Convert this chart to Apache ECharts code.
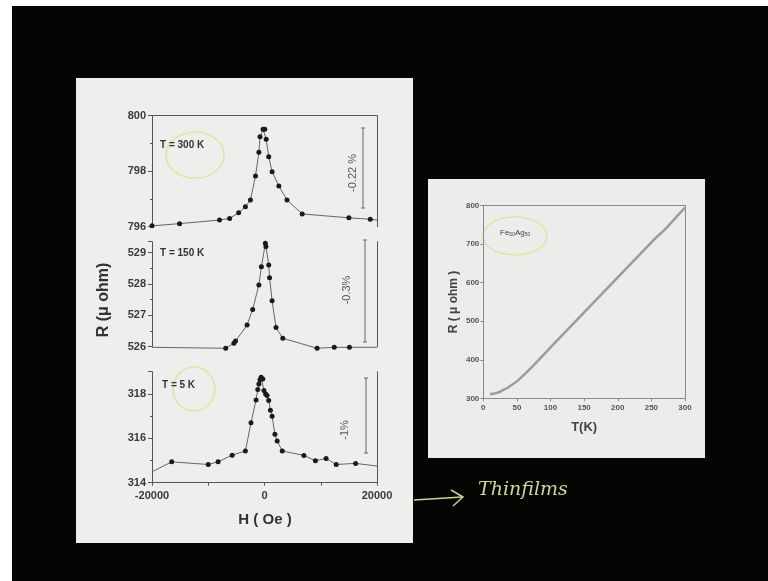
<!DOCTYPE html>
<html>
<head>
<meta charset="utf-8">
<script src="https://cdn.jsdelivr.net/npm/echarts@6/dist/echarts.min.js"></script>
<style>
html,body{margin:0;padding:0;background:#fff;}
#c{width:768px;height:581px;}
</style>
</head>
<body>
<div id="c"></div>
<script>
// ---- Data ----
// T = 300 K
const h300 = [-20000,-15100,-8000,-6200,-4600,-3400,-2500,-1600,-1000,-800,-250,50,300,750,1350,2550,4000,6700,15000,18800,20000];
const r300 = [796.03,796.11,796.24,796.30,796.50,796.72,796.96,797.83,798.68,799.24,799.51,799.51,799.15,798.52,797.98,797.47,796.96,796.46,796.32,796.27,796.24];
// T = 150 K
const h150 = [-20000,-6900,-5450,-5150,-3100,-2100,-1000,-550,150,250,750,900,1350,2050,3250,9350,12400,15100,20000];
const r150 = [525.98,525.95,526.11,526.18,526.69,527.19,527.97,528.55,529.30,529.20,528.61,528.20,527.47,526.61,526.27,525.95,525.98,525.98,525.98];
// T = 5 K
const h5 = [-20000,-16500,-10000,-8250,-5750,-3400,-2400,-1500,-1200,-1000,-800,-600,-300,-100,200,450,750,1050,1350,1850,2250,3150,7000,9050,10950,12750,16200,20000];
const r5 = [314.49,314.94,314.82,314.94,315.24,315.43,316.70,317.73,318.20,318.45,318.64,318.75,318.67,318.15,318.00,317.93,317.70,317.26,316.99,316.18,315.88,315.43,315.23,314.99,315.09,314.82,314.87,314.75];
// R(T) for Fe50Ag50
const tK = [10,15,20,25,30,35,40,50,60,70,80,100,150,200,250,260,270,280,290,300];
const rT = [311,312,314,317,322,326,332,344,360,377,395,432,523,614,705,722,738,757,776,795];

const hTicks = [-20000,0,20000];
const yLabels300 = [796,798,800];
const yLabels150 = [526,527,528,529];
const yLabels5 = [314,316,318];

function pairs(xs, ys, noFirst){
  return xs.map((x,i)=>{
    const item = {value:[x, ys[i]]};
    if ((i === xs.length-1 && Math.abs(x) === 20000) || (i === 0 && noFirst)) item.symbol = 'none';
    return item;
  });
}
function pairsPlain(xs, ys){ return xs.map((x,i)=>[x, ys[i]]); }

const FF = 'Liberation Sans, Arial, sans-serif';
const axCol = '#555';
const lblStyle = {fontSize:11, fontWeight:'bold', color:'#3a3a3a', fontFamily:FF};

const L = 152, W = 225;
const grids = [
  {left:L, top:115.7, width:W, height:111},
  {left:L, top:241.7, width:W, height:105},
  {left:L, top:371.7, width:W, height:111},
  {left:483.3, top:205.7, width:201.7, height:192.6}
];

function hAxis(gi, show){
  return {type:'value', gridIndex:gi, min:-20000, max:20000, interval:20000,
    axisLine:{show:show, onZero:false, lineStyle:{color:axCol, width:1}},
    axisTick:{show:show, length:3, lineStyle:{color:axCol}},
    minorTick:{show:show, splitNumber:2, length:3, lineStyle:{color:axCol}},
    axisLabel:{show:show, margin:8, ...lblStyle, formatter:v=>hTicks.includes(v)?String(v):''},
    splitLine:{show:false}, z:3};
}
function leftY(gi, mn, mx, iv, labels){
  return {type:'value', gridIndex:gi, min:mn, max:mx, interval:iv,
    axisLine:{show:true, onZero:false, lineStyle:{color:axCol, width:1}},
    axisTick:{show:true, length:4, lineStyle:{color:axCol}},
    minorTick:{show:true, splitNumber:2, length:2, lineStyle:{color:axCol}},
    axisLabel:{margin:6, showMaxLabel:labels.includes(mx), showMinLabel:true, ...lblStyle,
      formatter:v=>labels.includes(Math.round(v))?String(Math.round(v)):''},
    splitLine:{show:false}, z:3};
}
function rightY(gi, mn, mx){
  return {type:'value', gridIndex:gi, position:'right', min:mn, max:mx,
    axisLine:{show:true, onZero:false, lineStyle:{color:axCol, width:1}},
    axisTick:{show:false}, axisLabel:{show:false}, splitLine:{show:false}, z:3};
}

const smallLbl = {fontSize:8, fontWeight:'bold', color:'#555', fontFamily:FF};

const option = {
  backgroundColor:'#050503',
  animation:false,
  grid: grids,
  xAxis:[
    hAxis(0,false), hAxis(1,false), hAxis(2,true),
    {type:'value', gridIndex:0, position:'top', min:-20000, max:20000,
      axisLine:{show:true, onZero:false, lineStyle:{color:axCol}}, axisTick:{show:false}, axisLabel:{show:false}, splitLine:{show:false}, z:3},
    {type:'value', gridIndex:3, min:0, max:300, interval:50,
      name:'T(K)', nameLocation:'middle', nameGap:23,
      nameTextStyle:{fontSize:13, fontWeight:'bold', color:'#444', fontFamily:FF},
      axisLine:{show:true, onZero:false, lineStyle:{color:'#8a8a8a'}},
      axisTick:{show:true, length:3, lineStyle:{color:'#8a8a8a'}},
      axisLabel:{margin:5, ...smallLbl}, splitLine:{show:false}, z:3},
    {type:'value', gridIndex:3, position:'top', min:0, max:300,
      axisLine:{show:true, onZero:false, lineStyle:{color:'#8a8a8a'}}, axisTick:{show:false}, axisLabel:{show:false}, splitLine:{show:false}, z:3}
  ],
  yAxis:[
    leftY(0, 796, 800, 2, yLabels300),
    leftY(1, 526, 529.35, 1, yLabels150),
    leftY(2, 314, 319, 2, yLabels5),
    rightY(0, 796, 800), rightY(1, 526, 529.35), rightY(2, 314, 319),
    {type:'value', gridIndex:3, min:300, max:800, interval:100,
      name:'R ( \u03bc ohm )', nameLocation:'middle', nameGap:24, nameRotate:90,
      nameTextStyle:{fontSize:12, fontWeight:'bold', color:'#444', fontFamily:FF},
      axisLine:{show:true, onZero:false, lineStyle:{color:'#8a8a8a'}},
      axisTick:{show:true, length:3, lineStyle:{color:'#8a8a8a'}},
      axisLabel:{margin:4, ...smallLbl}, splitLine:{show:false}, z:3},
    {type:'value', gridIndex:3, position:'right', min:300, max:800,
      axisLine:{show:true, onZero:false, lineStyle:{color:'#8a8a8a'}}, axisTick:{show:false}, axisLabel:{show:false}, splitLine:{show:false}, z:3}
  ],
  series:[
    {type:'line', xAxisIndex:0, yAxisIndex:0, data:pairs(h300,r300,false), symbol:'circle', symbolSize:5, clip:false,
      itemStyle:{color:'#1a1a1a'}, lineStyle:{color:'#666', width:1}, z:4},
    {type:'line', xAxisIndex:1, yAxisIndex:1, data:pairs(h150,r150,true), symbol:'circle', symbolSize:5, clip:false,
      itemStyle:{color:'#1a1a1a'}, lineStyle:{color:'#666', width:1}, z:4},
    {type:'line', xAxisIndex:2, yAxisIndex:2, data:pairs(h5,r5,true), symbol:'circle', symbolSize:5, clip:false,
      itemStyle:{color:'#1a1a1a'}, lineStyle:{color:'#666', width:1}, z:4},
    {type:'line', xAxisIndex:4, yAxisIndex:6, data:pairsPlain(tK,rT), symbol:'none', smooth:0.3,
      lineStyle:{color:'#9c9c9c', width:2.5}, z:4}
  ],
  graphic:[
    {type:'rect', z:-10, shape:{x:0,y:0,width:12,height:581}, style:{fill:'#ffffff'}},
    {type:'rect', z:-10, shape:{x:0,y:0,width:768,height:6}, style:{fill:'#ffffff'}},
    {type:'rect', z:-10, shape:{x:76,y:78,width:337,height:465}, style:{fill:'#eeeeec'}},
    {type:'rect', z:-10, shape:{x:428,y:179,width:277,height:279}, style:{fill:'#ececea'}},
    // yellow hand-drawn circles
    {type:'ellipse', z:1, shape:{cx:195,cy:155,rx:29,ry:23}, style:{fill:null, stroke:'#e4e3a4', lineWidth:1.6}},
    {type:'ellipse', z:1, shape:{cx:194,cy:389,rx:21,ry:22}, style:{fill:null, stroke:'#e4e3a4', lineWidth:1.6}},
    {type:'ellipse', z:1, shape:{cx:515,cy:236,rx:32,ry:19}, style:{fill:null, stroke:'#e4e3a4', lineWidth:1.6}},
    // labels
    {type:'text', z:5, x:160, y:145, style:{text:'T = 300 K', fontSize:10, fontWeight:'bold', fill:'#333', fontFamily:FF, verticalAlign:'middle'}},
    {type:'text', z:5, x:160, y:253, style:{text:'T = 150 K', fontSize:10, fontWeight:'bold', fill:'#333', fontFamily:FF, verticalAlign:'middle'}},
    {type:'text', z:5, x:162, y:385, style:{text:'T = 5 K', fontSize:10, fontWeight:'bold', fill:'#333', fontFamily:FF, verticalAlign:'middle'}},
    {type:'text', z:5, x:104, y:300, rotation:Math.PI/2, style:{text:'R (\u03bc ohm)', fontSize:16, fontWeight:'bold', fill:'#333', fontFamily:FF, align:'center', verticalAlign:'middle'}},
    {type:'text', z:5, x:265, y:520, style:{text:'H ( Oe )', fontSize:15, fontWeight:'bold', fill:'#333', fontFamily:FF, align:'center', verticalAlign:'middle'}},
    {type:'text', z:5, x:500, y:233, style:{rich:{n:{fontSize:8, fill:'#444', fontFamily:FF}, s:{fontSize:5, fill:'#444', fontFamily:FF, verticalAlign:'bottom', padding:[4,0,0,0]}}, text:'{n|Fe}{s|50}{n|Ag}{s|50}', verticalAlign:'middle'}},
    // percentage brackets
    {type:'line', z:5, shape:{x1:363,y1:128,x2:363,y2:208}, style:{stroke:'#666', lineWidth:1}},
    {type:'line', z:5, shape:{x1:361,y1:128,x2:365,y2:128}, style:{stroke:'#666', lineWidth:1}},
    {type:'line', z:5, shape:{x1:361,y1:208,x2:365,y2:208}, style:{stroke:'#666', lineWidth:1}},
    {type:'line', z:5, shape:{x1:365,y1:240,x2:365,y2:342}, style:{stroke:'#666', lineWidth:1}},
    {type:'line', z:5, shape:{x1:363,y1:240,x2:367,y2:240}, style:{stroke:'#666', lineWidth:1}},
    {type:'line', z:5, shape:{x1:363,y1:342,x2:367,y2:342}, style:{stroke:'#666', lineWidth:1}},
    {type:'line', z:5, shape:{x1:366,y1:378,x2:366,y2:453}, style:{stroke:'#666', lineWidth:1}},
    {type:'line', z:5, shape:{x1:364,y1:378,x2:368,y2:378}, style:{stroke:'#666', lineWidth:1}},
    {type:'line', z:5, shape:{x1:364,y1:453,x2:368,y2:453}, style:{stroke:'#666', lineWidth:1}},
    {type:'text', z:5, x:353, y:173, rotation:Math.PI/2, style:{text:'-0.22 %', fontSize:11, fill:'#555', fontFamily:FF, align:'center', verticalAlign:'middle'}},
    {type:'text', z:5, x:347, y:290, rotation:Math.PI/2, style:{text:'-0.3%', fontSize:11, fill:'#555', fontFamily:FF, align:'center', verticalAlign:'middle'}},
    {type:'text', z:5, x:345, y:430, rotation:Math.PI/2, style:{text:'-1%', fontSize:11, fill:'#555', fontFamily:FF, align:'center', verticalAlign:'middle'}},
    // handwritten note
    {type:'polyline', z:5, shape:{points:[[414,500],[462,497]]}, style:{stroke:'#cfd48a', lineWidth:1.5, fill:null}},
    {type:'polyline', z:5, shape:{points:[[451,490],[463,497],[453,506]]}, style:{stroke:'#cfd48a', lineWidth:1.5, fill:null}},
    {type:'text', z:5, x:478, y:490, style:{text:'Thinfilms', fontSize:19, fontStyle:'italic', fill:'#d3d790', fontFamily:'DejaVu Serif', verticalAlign:'middle'}}
  ]
};
const chart = echarts.init(document.getElementById('c'), null, {renderer:'canvas'});
chart.setOption(option);
</script>
</body>
</html>
